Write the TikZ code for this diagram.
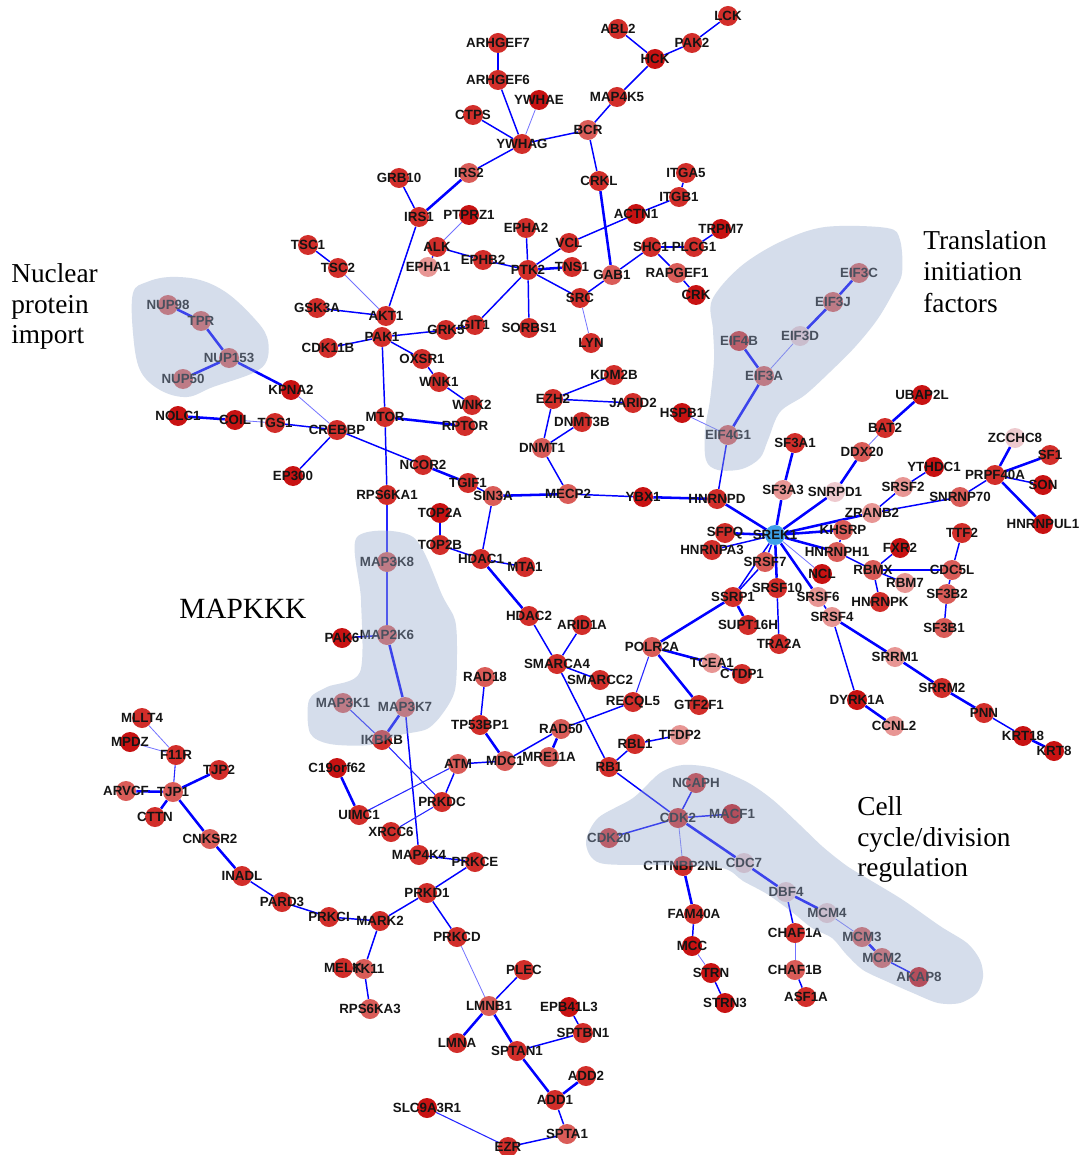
\documentclass[tikz,border=0pt]{standalone}
\usepackage{fontspec}
\newfontfamily\lblfont{Liberation Sans}
\newfontfamily\annfont{Liberation Serif}
\pgfdeclarelayer{paper}
\pgfdeclarelayer{edges}
\pgfdeclarelayer{over}
\pgfsetlayers{paper,edges,main,over}
\definecolor{r1}{RGB}{200,18,18}
\definecolor{r2}{RGB}{210,46,42}
\definecolor{r3}{RGB}{218,92,88}
\definecolor{r4}{RGB}{232,150,148}
\definecolor{r5}{RGB}{238,202,206}
\definecolor{hub}{RGB}{60,160,232}
\definecolor{blobc}{RGB}{150,170,205}
\tikzset{
  gnode/.style={circle, inner sep=0pt, minimum size=15pt, fill=#1, draw=none},
  lbl/.style={font=\lblfont\bfseries\fontsize{10}{11}\selectfont, text=black!92, inner sep=0pt},
  ek/.style={blue, line width=1.9pt},
  em/.style={blue, line width=1.1pt},
  en/.style={blue!85, line width=0.8pt},
  et/.style={blue!55, line width=0.6pt},
  blob/.style={fill=blobc, fill opacity=0.4, draw=none},
  ann/.style={font=\annfont\fontsize{20.5}{24}\selectfont, anchor=base west, inner sep=0pt},
}
\newcommand\gn[4]{\node[gnode=#4, label={[lbl]center:#1}] (#1) at (#2,#3) {};}
\begin{document}
\begin{tikzpicture}[x=0.75pt, y=-0.75pt]
\useasboundingbox (0,0) rectangle (1080,1155);
\begin{pgfonlayer}{paper}
\fill[white] (0,0) rectangle (1080,1155);
\end{pgfonlayer}

% ---- signalling cluster (top)
\gn{ARHGEF7}{498}{43}{r2}
\gn{ARHGEF6}{498}{80}{r2}
\gn{YWHAE}{539}{100}{r1}
\gn{CTPS}{473}{115}{r2}
\gn{YWHAG}{522}{144}{r2}
\gn{IRS2}{469}{173}{r3}
\gn{GRB10}{399}{178}{r2}
\gn{IRS1}{419}{217}{r2}
\gn{PTPRZ1}{469}{215}{r1}
\gn{EPHA1}{428}{267}{r4}
\gn{ALK}{437}{247}{r2}
\gn{EPHB2}{483}{260}{r2}
\gn{EPHA2}{526}{228}{r2}
\gn{PTK2}{528}{270}{r2}
\gn{TSC1}{308}{245}{r2}
\gn{TSC2}{338}{268}{r2}
\gn{GSK3A}{317}{308}{r2}
\gn{AKT1}{386}{316}{r2}
\gn{PAK1}{382}{337}{r2}
\gn{GIT1}{475}{325}{r2}
\gn{GRK5}{446}{330}{r2}
\gn{SORBS1}{529}{328}{r2}
\gn{CDK11B}{328}{348}{r2}
\gn{OXSR1}{422}{359}{r2}
\gn{WNK1}{439}{382}{r2}
\gn{WNK2}{472}{405}{r2}
\gn{KPNA2}{291}{390}{r1}
\gn{ABL2}{618}{29}{r2}
\gn{LCK}{728}{16}{r2}
\gn{PAK2}{692}{43}{r2}
\gn{HCK}{655}{59}{r1}
\gn{MAP4K5}{617}{97}{r2}
\gn{BCR}{588}{130}{r3}
\gn{CRKL}{599}{181}{r2}
\gn{ITGA5}{686}{173}{r2}
\gn{ITGB1}{679}{197}{r2}
\gn{ACTN1}{636}{214}{r1}
\gn{TRPM7}{721}{229}{r1}
\gn{VCL}{569}{243}{r2}
\gn{PLCG1}{694}{247}{r2}
\gn{SHC1}{651}{247}{r2}
\gn{TNS1}{572}{267}{r2}
\gn{GAB1}{612}{275}{r3}
\gn{RAPGEF1}{677}{273}{r3}
\gn{SRC}{580}{298}{r2}
\gn{CRK}{696}{295}{r1}
\gn{LYN}{591}{343}{r2}
\gn{KDM2B}{614}{375}{r2}
% ---- translation initiation
\gn{EIF4B}{739}{341}{r2}
\gn{EIF3D}{800}{336}{r5}
\gn{EIF3A}{764}{376}{r3}
\gn{EIF3C}{859}{273}{r3}
\gn{EIF3J}{833}{302}{r3}
\gn{EIF4G1}{728}{435}{r3}
\gn{HSPB1}{682}{413}{r1}
% ---- nuclear import
\gn{NUP98}{168}{305}{r3}
\gn{TPR}{201}{321}{r3}
\gn{NUP153}{229}{358}{r3}
\gn{NUP50}{183}{379}{r3}
\gn{NOLC1}{178}{416}{r1}
\gn{COIL}{235}{420}{r1}
\gn{TGS1}{275}{423}{r2}
\gn{CREBBP}{337}{430}{r2}
\gn{EP300}{293}{476}{r1}
\gn{MTOR}{385}{417}{r2}
\gn{RPTOR}{465}{426}{r2}
\gn{NCOR2}{423}{465}{r2}
\gn{TGIF1}{468}{483}{r2}
\gn{SIN3A}{493}{496}{r3}
\gn{RPS6KA1}{387}{495}{r2}
\gn{TOP2A}{440}{513}{r1}
\gn{TOP2B}{440}{545}{r2}
\gn{HDAC1}{481}{559}{r2}
\gn{MTA1}{525}{567}{r2}
\gn{HDAC2}{529}{616}{r2}
% ---- MAPKKK
\gn{MAP3K8}{387}{562}{r3}
\gn{PAK6}{342}{638}{r1}
\gn{MAP2K6}{387}{635}{r3}
\gn{MAP3K1}{343}{703}{r3}
\gn{MAP3K7}{405}{707}{r3}
\gn{IKBKB}{382}{740}{r2}
% ---- DNA repair / chromatin
\gn{RAD18}{485}{677}{r3}
\gn{TP53BP1}{480}{725}{r2}
\gn{MDC1}{505}{761}{r3}
\gn{RAD50}{561}{729}{r3}
\gn{MRE11A}{549}{757}{r3}
\gn{ATM}{458}{764}{r3}
\gn{C19orf62}{337}{768}{r1}
\gn{EZH2}{553}{399}{r2}
\gn{JARID2}{633}{403}{r2}
\gn{DNMT3B}{582}{422}{r2}
\gn{DNMT1}{542}{448}{r3}
\gn{MECP2}{568}{494}{r3}
\gn{YBX1}{643}{497}{r1}
\gn{HNRNPD}{717}{499}{r2}
\gn{SMARCA4}{557}{664}{r2}
\gn{ARID1A}{582}{625}{r2}
\gn{SMARCC2}{600}{680}{r2}
% ---- splicing hub
\gn{SREK1}{775}{535}{hub}
\gn{SF3A1}{795}{443}{r2}
\gn{SF3A3}{783}{490}{r4}
\gn{SNRPD1}{835}{492}{r5}
\gn{DDX20}{862}{452}{r3}
\gn{BAT2}{885}{428}{r2}
\gn{UBAP2L}{922}{395}{r1}
\gn{ZRANB2}{872}{513}{r4}
\gn{SRSF2}{903}{487}{r4}
\gn{YTHDC1}{934}{467}{r1}
\gn{SNRNP70}{960}{497}{r3}
\gn{PRPF40A}{995}{475}{r2}
\gn{ZCCHC8}{1015}{438}{r5}
\gn{SF1}{1050}{455}{r2}
\gn{SON}{1043}{485}{r1}
\gn{HNRNPUL1}{1043}{524}{r1}
\gn{KHSRP}{843}{530}{r3}
\gn{HNRNPH1}{837}{552}{r3}
\gn{FXR2}{900}{548}{r1}
\gn{RBMX}{873}{570}{r3}
\gn{RBM7}{905}{583}{r4}
\gn{HNRNPK}{880}{602}{r2}
\gn{CDC5L}{952}{570}{r3}
\gn{TTF2}{962}{533}{r2}
\gn{SF3B2}{947}{594}{r3}
\gn{SF3B1}{944}{628}{r3}
\gn{NCL}{822}{574}{r1}
\gn{SRSF6}{818}{597}{r4}
\gn{SRSF4}{832}{617}{r4}
\gn{SRSF10}{777}{588}{r2}
\gn{TRA2A}{779}{644}{r2}
\gn{SRSF7}{765}{562}{r3}
\gn{SSRP1}{733}{597}{r2}
\gn{SUPT16H}{748}{625}{r2}
\gn{SFPQ}{725}{533}{r2}
\gn{HNRNPA3}{712}{550}{r2}
\gn{POLR2A}{652}{647}{r3}
\gn{TCEA1}{712}{663}{r4}
\gn{CTDP1}{742}{674}{r2}
\gn{GTF2F1}{699}{705}{r2}
\gn{RECQL5}{633}{702}{r2}
\gn{TFDP2}{680}{735}{r4}
\gn{RBL1}{635}{744}{r2}
\gn{RB1}{609}{767}{r2}
\gn{SRRM1}{895}{657}{r4}
\gn{SRRM2}{942}{688}{r2}
\gn{DYRK1A}{857}{700}{r1}
\gn{CCNL2}{894}{726}{r4}
\gn{PNN}{984}{713}{r2}
\gn{KRT18}{1023}{736}{r1}
\gn{KRT8}{1054}{751}{r1}
% ---- cell cycle
\gn{CDK2}{678}{818}{r2}
\gn{NCAPH}{696}{783}{r2}
\gn{MACF1}{732}{814}{r1}
\gn{CDK20}{609}{838}{r2}
\gn{CTTNBP2NL}{683}{866}{r2}
\gn{CDC7}{744}{863}{r5}
\gn{DBF4}{786}{892}{r5}
\gn{MCM4}{827}{913}{r5}
\gn{MCM3}{862}{937}{r3}
\gn{MCM2}{882}{958}{r3}
\gn{AKAP8}{919}{977}{r1}
\gn{FAM40A}{694}{914}{r2}
\gn{MCC}{692}{946}{r1}
\gn{STRN}{711}{973}{r1}
\gn{STRN3}{725}{1003}{r1}
\gn{CHAF1A}{795}{933}{r2}
\gn{CHAF1B}{795}{970}{r3}
\gn{ASF1A}{806}{997}{r2}
% ---- junction / kinase chain (bottom left)
\gn{MLLT4}{142}{718}{r2}
\gn{MPDZ}{130}{742}{r1}
\gn{F11R}{176}{755}{r2}
\gn{TJP2}{219}{770}{r2}
\gn{ARVCF}{126}{791}{r3}
\gn{TJP1}{173}{792}{r3}
\gn{CTTN}{155}{817}{r2}
\gn{CNKSR2}{210}{839}{r3}
\gn{INADL}{242}{876}{r2}
\gn{PARD3}{282}{902}{r2}
\gn{PRKCI}{329}{917}{r2}
\gn{MARK2}{380}{921}{r2}
\gn{PRKD1}{427}{893}{r2}
\gn{PRKCE}{475}{862}{r2}
\gn{MAP4K4}{419}{855}{r2}
\gn{PRKDC}{442}{802}{r2}
\gn{UIMC1}{359}{815}{r2}
\gn{XRCC6}{391}{832}{r2}
\gn{PRKCD}{457}{937}{r2}
\gn{STK11}{364}{969}{r3}
\gn{MELK}{343}{968}{r2}
\gn{RPS6KA3}{370}{1009}{r3}
\gn{PLEC}{524}{970}{r2}
\gn{LMNB1}{489}{1006}{r3}
\gn{LMNA}{457}{1043}{r2}
\gn{SPTAN1}{517}{1051}{r2}
\gn{SPTBN1}{583}{1033}{r2}
\gn{EPB41L3}{569}{1007}{r1}
\gn{ADD1}{555}{1100}{r2}
\gn{ADD2}{586}{1076}{r2}
\gn{SPTA1}{567}{1134}{r3}
\gn{EZR}{508}{1147}{r2}
\gn{SLC9A3R1}{427}{1108}{r1}

\begin{pgfonlayer}{edges}
% heavy interactions
\foreach \a/\b in {IRS2/IRS1, CRKL/GAB1, PTK2/TNS1, EIF3C/EIF3J, EIF3J/EIF3D,
  C19orf62/UIMC1, MAP3K7/IKBKB, DBF4/MCM4, MCM3/MCM2, CTTNBP2NL/FAM40A,
  SPTAN1/ADD1, LMNB1/SPTAN1, LMNB1/LMNA, ADD1/ADD2, CNKSR2/INADL, TJP1/CNKSR2,
  TJP1/TJP2, TJP1/ARVCF, TJP1/CTTN, HDAC1/HDAC2, SREK1/SF3A3, SF3A3/SF3A1,
  SREK1/SNRPD1, SREK1/HNRNPH1, SREK1/SRSF6, SREK1/ZRANB2, SREK1/KHSRP, SREK1/SFPQ,
  POLR2A/SSRP1, POLR2A/GTF2F1, POLR2A/TCEA1, SSRP1/SUPT16H, SRSF4/SRRM1,
  SRRM1/SRRM2, SRRM2/PNN, KRT18/KRT8, DYRK1A/CCNL2, NUP153/NUP50, NUP153/TPR,
  TPR/NUP98, KPNA2/NUP153, NOLC1/COIL, MTOR/RPTOR, PRPF40A/HNRNPUL1, PRPF40A/SF1,
  PRPF40A/ZCCHC8, BAT2/UBAP2L, DDX20/SNRPD1, MAP2K6/MAP3K7, RAD50/MRE11A,
  TP53BP1/MDC1, SIN3A/MECP2, CDC7/DBF4, CDK2/CDC7, RBMX/CDC5L, EIF4G1/EIF3A,
  EIF4B/EIF3A, NCOR2/TGIF1, SREK1/SRSF10, SREK1/HNRNPD, YBX1/HNRNPD}
  \draw[ek] (\a) -- (\b);
% ordinary interactions
\foreach \a/\b in {ARHGEF7/ARHGEF6, ARHGEF6/YWHAG, CTPS/YWHAG, YWHAG/BCR,
  YWHAG/IRS2, GRB10/IRS1, IRS1/AKT1, BCR/MAP4K5, MAP4K5/HCK, ABL2/HCK, HCK/PAK2,
  PAK2/LCK, BCR/CRKL, ITGA5/ITGB1, ITGB1/ACTN1, ACTN1/VCL, VCL/PTK2, PTK2/SRC,
  PTK2/EPHB2, PTK2/EPHA2, PTK2/SORBS1, PTK2/GIT1, ALK/EPHB2, ALK/EPHA1, GAB1/SRC,
  GAB1/SHC1, SHC1/PLCG1, PLCG1/TRPM7, SHC1/RAPGEF1, RAPGEF1/CRK, TSC1/TSC2,
  GSK3A/AKT1, CDK11B/PAK1, PAK1/GRK5, GRK5/GIT1, PAK1/OXSR1, OXSR1/WNK1,
  WNK1/WNK2, PAK1/MTOR, MTOR/RPS6KA1, TGS1/CREBBP, CREBBP/EP300, CREBBP/NCOR2,
  TGIF1/SIN3A, SIN3A/HDAC1, TOP2A/TOP2B, TOP2B/HDAC1, HDAC1/MTA1, HDAC2/SMARCA4,
  ARID1A/SMARCA4, SMARCA4/SMARCC2, SMARCA4/RB1, EZH2/KDM2B, EZH2/JARID2,
  EZH2/DNMT1, DNMT1/DNMT3B, DNMT1/MECP2, MECP2/YBX1, HNRNPD/EIF4G1,
  SNRPD1/DDX20, ZRANB2/SRSF2, SRSF2/YTHDC1, ZRANB2/SNRNP70, SNRNP70/PRPF40A,
  PRPF40A/SON, HNRNPH1/RBMX, KHSRP/HNRNPH1, RBMX/FXR2, RBMX/RBM7, RBMX/HNRNPK,
  CDC5L/TTF2, CDC5L/SF3B2, SF3B2/SF3B1, SRSF6/SRSF4, SRSF10/TRA2A, SREK1/SRSF7,
  SRSF7/SSRP1, SREK1/HNRNPA3, TCEA1/CTDP1, RECQL5/RAD50, RAD50/MDC1,
  RAD18/TP53BP1, MDC1/ATM, ATM/PRKDC, MAP2K6/PAK6, MAP3K7/MAP4K4,
  MAP4K4/PRKCE, PRKCE/PRKD1, PRKD1/MARK2, PRKD1/PRKCD, MARK2/PRKCI,
  PRKCI/PARD3, PARD3/INADL, MARK2/STK11, MELK/STK11, STK11/RPS6KA3,
  LMNB1/PLEC, SPTAN1/SPTBN1, SPTBN1/EPB41L3, ADD1/SPTA1, SPTA1/EZR,
  RB1/RBL1, RBL1/TFDP2, RB1/CDK2, CDK2/NCAPH, CDK2/MACF1, CDK2/CDK20,
  DBF4/CHAF1A, CHAF1B/ASF1A, FAM40A/MCC, STRN/STRN3, SRSF4/DYRK1A,
  PNN/KRT18, MCM2/AKAP8, EIF3D/EIF3J, SSRP1/SREK1}
  \draw[em] (\a) -- (\b);
% narrow interactions
\foreach \a/\b in {RPS6KA1/MAP3K8, MAP3K8/MAP2K6, PRKDC/XRCC6, ATM/UIMC1,
  IKBKB/PRKDC, MAP3K1/IKBKB, EZR/SLC9A3R1, F11R/TJP1, RECQL5/POLR2A}
  \draw[en] (\a) -- (\b);
% weak interactions
\foreach \a/\b in {YWHAE/YWHAG, KPNA2/CREBBP, EIF3A/EIF3D, CDK2/CTTNBP2NL,
  MCM4/MCM3, CHAF1A/CHAF1B, BAT2/DDX20, SREK1/NCL, PRKCD/LMNB1, TSC2/AKT1,
  ALK/PTPRZ1, SRC/LYN, COIL/TGS1, F11R/MLLT4, F11R/MPDZ, MCC/STRN,
  HSPB1/EIF4G1}
  \draw[et] (\a) -- (\b);
\end{pgfonlayer}

% functional groups, laid over the nodes
\begin{pgfonlayer}{over}
\fill[blob] plot[smooth cycle, tension=0.6] coordinates {(133,293) (147,282)
  (170,277) (200,280) (227,293) (253,317) (267,337) (267,360) (253,373)
  (213,387) (187,397) (160,390) (140,370) (133,333)};
\fill[blob] plot[smooth cycle, tension=0.55] coordinates {(712,300) (740,267)
  (780,242) (825,227) (887,228) (900,240) (902,273) (893,293) (877,320)
  (855,347) (830,372) (805,395) (780,412) (768,440) (760,458) (742,469)
  (718,470) (706,460) (705,430) (710,400) (714,360) (713,330)};
\fill[blob] plot[smooth cycle, tension=0.5] coordinates {(357,537) (413,537)
  (443,597) (455,620) (457,650) (455,690) (443,713) (427,729) (400,735)
  (370,745) (330,744) (310,733) (309,700) (327,687) (360,672) (361,600)};
\fill[blob] plot[smooth cycle, tension=0.5] coordinates {(586,843) (598,818)
  (633,798) (660,773) (683,765) (713,768) (747,782) (773,800) (800,825)
  (823,847) (847,866) (870,880) (903,900) (940,926) (967,943) (980,960)
  (983,977) (977,993) (960,1003) (938,1003) (913,993) (888,982) (863,970)
  (846,954) (832,938) (812,928) (792,912) (767,894) (743,881) (722,868)
  (660,865) (600,863)};
\end{pgfonlayer}

% group captions
\node[ann] (capNuc1) at (11,282) {Nuclear};
\node[ann] (capNuc2) at (11,313) {protein};
\node[ann] (capNuc3) at (11,344) {import};
\node[ann] (capTr1) at (923,250) {Translation};
\node[ann] (capTr2) at (923,281) {initiation};
\node[ann] (capTr3) at (923,312) {factors};
\node[ann, font=\annfont\fontsize{22}{26}\selectfont] (capMap) at (179,618) {MAPKKK};
\node[ann] (capCc1) at (857,815) {Cell};
\node[ann] (capCc2) at (857,846) {cycle/division};
\node[ann] (capCc3) at (857,876) {regulation};
\end{tikzpicture}
\end{document}
